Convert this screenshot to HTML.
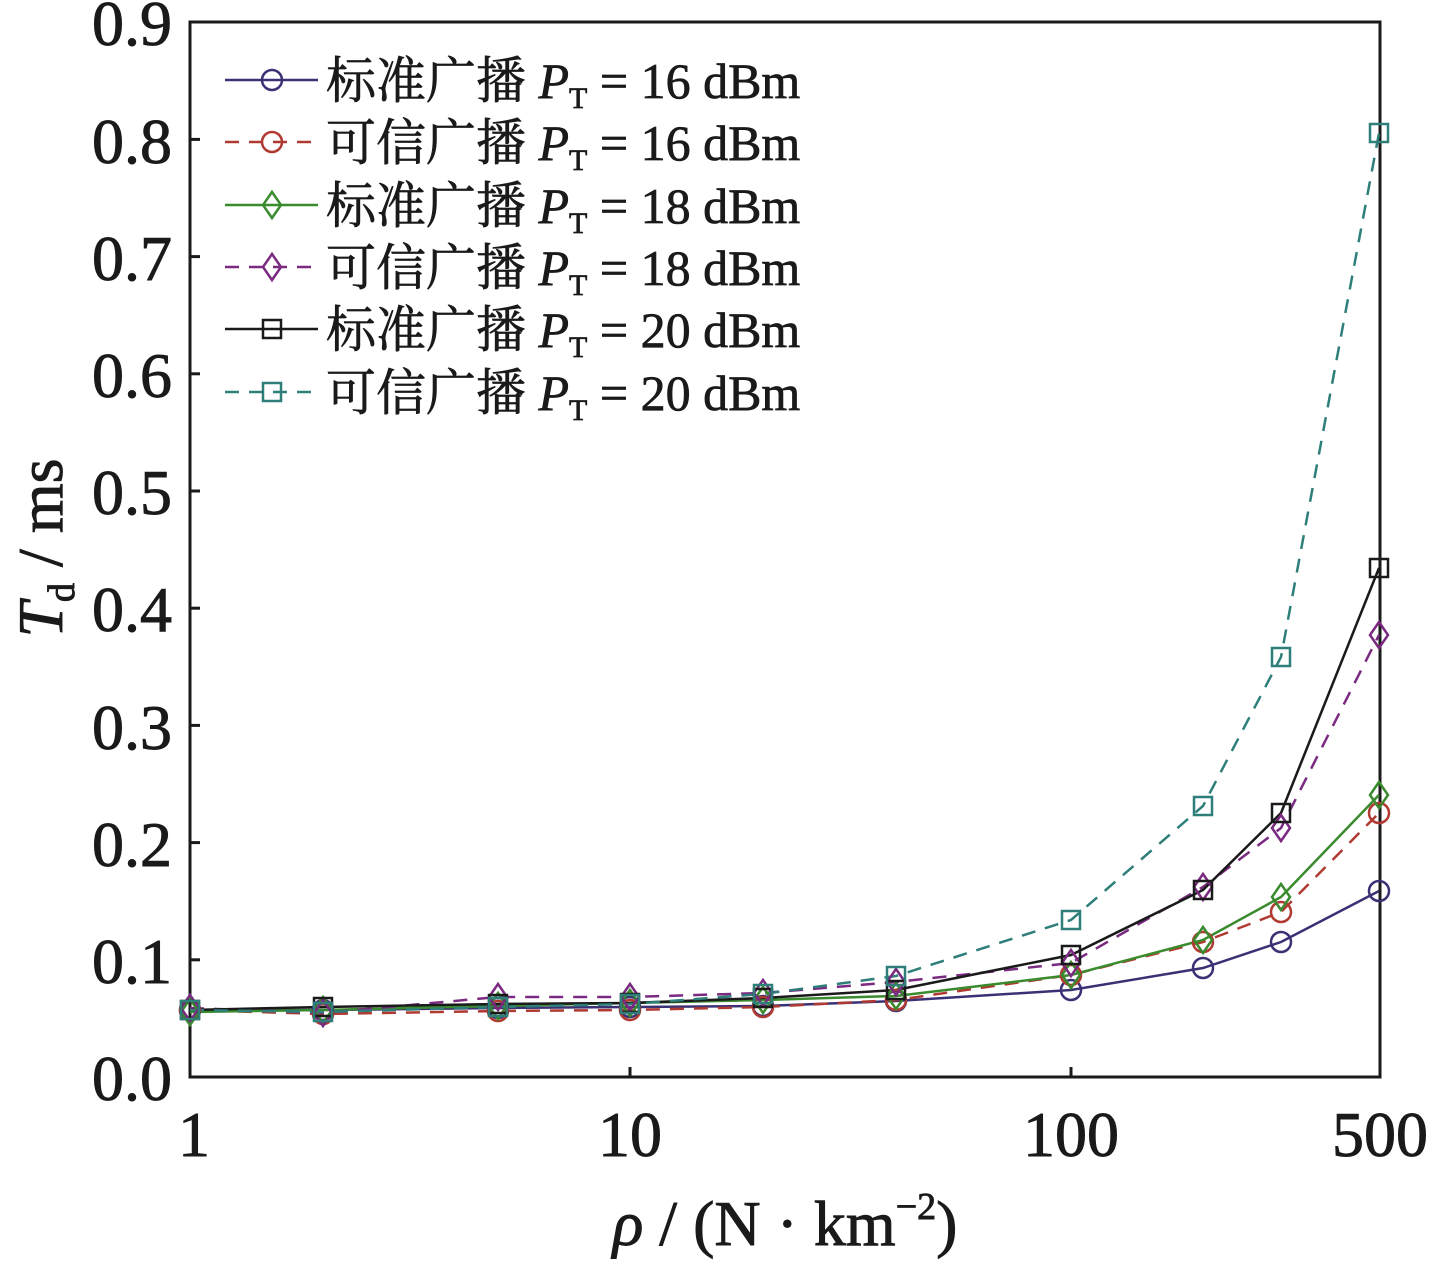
<!DOCTYPE html>
<html><head><meta charset="utf-8"><style>
html,body{margin:0;padding:0;background:#fff;}
svg text{font-family:"Liberation Serif","Noto Serif CJK SC",serif;}
</style></head><body>
<svg width="1433" height="1261" viewBox="0 0 1433 1261" xmlns="http://www.w3.org/2000/svg">
<rect width="1433" height="1261" fill="#fff"/>
<rect x="190" y="22" width="1190" height="1055" fill="none" stroke="#1a1a1a" stroke-width="3"/>
<g stroke="#1a1a1a" stroke-width="3">
<line x1="190" y1="959.8" x2="200" y2="959.8"/><line x1="190" y1="842.6" x2="200" y2="842.6"/>
<line x1="190" y1="725.4" x2="200" y2="725.4"/><line x1="190" y1="608.2" x2="200" y2="608.2"/>
<line x1="190" y1="491" x2="200" y2="491"/><line x1="190" y1="373.8" x2="200" y2="373.8"/>
<line x1="190" y1="256.6" x2="200" y2="256.6"/><line x1="190" y1="139.4" x2="200" y2="139.4"/>
<line x1="630" y1="1077" x2="630" y2="1067"/><line x1="1071" y1="1077" x2="1071" y2="1067"/>
</g>
<g font-size="64" text-anchor="end" fill="#1a1a1a" stroke="#1a1a1a" stroke-width="0.9">
<text x="172" y="1100">0.0</text><text x="172" y="983">0.1</text><text x="172" y="866">0.2</text>
<text x="172" y="749">0.3</text><text x="172" y="631">0.4</text><text x="172" y="514">0.5</text>
<text x="172" y="397">0.6</text><text x="172" y="280">0.7</text><text x="172" y="163">0.8</text>
<text x="172" y="45">0.9</text>
</g>
<g font-size="64" text-anchor="middle" fill="#1a1a1a" stroke="#1a1a1a" stroke-width="0.9">
<text x="194" y="1156">1</text><text x="630" y="1156">10</text><text x="1071" y="1156">100</text><text x="1380" y="1156">500</text>
</g>
<text x="785" y="1245" font-size="64" text-anchor="middle" fill="#1a1a1a" stroke="#1a1a1a" stroke-width="0.9"><tspan font-style="italic">ρ</tspan> / (N · km<tspan font-size="38" dy="-26">−2</tspan><tspan dy="26">)</tspan></text>
<text transform="translate(62,548) rotate(-90)" font-size="64" text-anchor="middle" fill="#1a1a1a" stroke="#1a1a1a" stroke-width="0.9"><tspan font-style="italic">T</tspan><tspan font-size="38" dy="12">d</tspan><tspan dy="-12"> / ms</tspan></text>

<defs>
<g id="c"><circle r="10" fill="none" stroke-width="2.5"/></g>
<g id="d"><path d="M0,-13 L9,0 L0,13 L-9,0 Z" fill="none" stroke-width="2.5"/></g>
<g id="s"><rect x="-9" y="-9" width="18" height="18" fill="none" stroke-width="2.5"/></g>
</defs>

<g fill="none" stroke-width="2.5">
<polyline stroke="#3a3175" points="190,1010 323,1010 498,1008 630,1007 763,1006 896,1001 1071,990 1203,968 1281,942 1379,891"/>
<polyline stroke="#b03a32" stroke-dasharray="14,10" points="190,1010 323,1014 498,1011 630,1010 763,1007 896,1000 1071,975 1203,942 1281,912 1379,813"/>
<polyline stroke="#3a8a2e" points="190,1012 323,1010 498,1006 630,1003 763,1000 896,996 1071,975 1203,940 1281,897 1379,795"/>
<polyline stroke="#7a2a80" stroke-dasharray="14,10" points="190,1008 323,1013 498,997 630,997 763,993 896,982 1071,963 1203,887 1281,828 1379,635"/>
<polyline stroke="#1a1a1a" points="190,1010 323,1007 498,1004 630,1003 763,998 896,990 1071,955 1203,890 1281,813 1379,568"/>
<polyline stroke="#2e7f7a" stroke-dasharray="14,10" points="190,1010 323,1012 498,1007 630,1004 763,994 896,976 1071,920 1203,806 1281,657 1379,133"/>
</g>
<g stroke="#3a3175"><use href="#c" x="190" y="1010"/><use href="#c" x="323" y="1010"/><use href="#c" x="498" y="1008"/><use href="#c" x="630" y="1007"/><use href="#c" x="763" y="1006"/><use href="#c" x="896" y="1001"/><use href="#c" x="1071" y="990"/><use href="#c" x="1203" y="968"/><use href="#c" x="1281" y="942"/><use href="#c" x="1379" y="891"/></g>
<g stroke="#b03a32"><use href="#c" x="190" y="1010"/><use href="#c" x="323" y="1014"/><use href="#c" x="498" y="1011"/><use href="#c" x="630" y="1010"/><use href="#c" x="763" y="1007"/><use href="#c" x="896" y="1000"/><use href="#c" x="1071" y="975"/><use href="#c" x="1203" y="942"/><use href="#c" x="1281" y="912"/><use href="#c" x="1379" y="813"/></g>
<g stroke="#3a8a2e"><use href="#d" x="190" y="1012"/><use href="#d" x="323" y="1010"/><use href="#d" x="498" y="1006"/><use href="#d" x="630" y="1003"/><use href="#d" x="763" y="1000"/><use href="#d" x="896" y="996"/><use href="#d" x="1071" y="975"/><use href="#d" x="1203" y="940"/><use href="#d" x="1281" y="897"/><use href="#d" x="1379" y="795"/></g>
<g stroke="#7a2a80"><use href="#d" x="190" y="1008"/><use href="#d" x="323" y="1013"/><use href="#d" x="498" y="997"/><use href="#d" x="630" y="997"/><use href="#d" x="763" y="993"/><use href="#d" x="896" y="982"/><use href="#d" x="1071" y="963"/><use href="#d" x="1203" y="887"/><use href="#d" x="1281" y="828"/><use href="#d" x="1379" y="635"/></g>
<g stroke="#1a1a1a"><use href="#s" x="190" y="1010"/><use href="#s" x="323" y="1007"/><use href="#s" x="498" y="1004"/><use href="#s" x="630" y="1003"/><use href="#s" x="763" y="998"/><use href="#s" x="896" y="990"/><use href="#s" x="1071" y="955"/><use href="#s" x="1203" y="890"/><use href="#s" x="1281" y="813"/><use href="#s" x="1379" y="568"/></g>
<g stroke="#2e7f7a"><use href="#s" x="190" y="1010"/><use href="#s" x="323" y="1012"/><use href="#s" x="498" y="1007"/><use href="#s" x="630" y="1004"/><use href="#s" x="763" y="994"/><use href="#s" x="896" y="976"/><use href="#s" x="1071" y="920"/><use href="#s" x="1203" y="806"/><use href="#s" x="1281" y="657"/><use href="#s" x="1379" y="133"/></g>

<g stroke-width="2.5" fill="none">
<line x1="225" y1="80" x2="318" y2="80" stroke="#3a3175"/><use href="#c" x="272" y="80" stroke="#3a3175"/>
<line x1="225" y1="142" x2="318" y2="142" stroke="#b03a32" stroke-dasharray="14,10"/><use href="#c" x="272" y="142" stroke="#b03a32"/>
<line x1="225" y1="205" x2="318" y2="205" stroke="#3a8a2e"/><use href="#d" x="272" y="205" stroke="#3a8a2e"/>
<line x1="225" y1="267" x2="318" y2="267" stroke="#7a2a80" stroke-dasharray="14,10"/><use href="#d" x="272" y="267" stroke="#7a2a80"/>
<line x1="225" y1="329" x2="318" y2="329" stroke="#1a1a1a"/><use href="#s" x="272" y="329" stroke="#1a1a1a"/>
<line x1="225" y1="392" x2="318" y2="392" stroke="#2e7f7a" stroke-dasharray="14,10"/><use href="#s" x="272" y="392" stroke="#2e7f7a"/>
</g>
<g font-size="50" fill="#1a1a1a" stroke="#1a1a1a" stroke-width="0.7">
<text x="326" y="98">标准广播 <tspan font-style="italic">P</tspan><tspan font-size="30" dy="10">T</tspan><tspan dy="-10"> = 16 dBm</tspan></text>
<text x="326" y="160">可信广播 <tspan font-style="italic">P</tspan><tspan font-size="30" dy="10">T</tspan><tspan dy="-10"> = 16 dBm</tspan></text>
<text x="326" y="223">标准广播 <tspan font-style="italic">P</tspan><tspan font-size="30" dy="10">T</tspan><tspan dy="-10"> = 18 dBm</tspan></text>
<text x="326" y="285">可信广播 <tspan font-style="italic">P</tspan><tspan font-size="30" dy="10">T</tspan><tspan dy="-10"> = 18 dBm</tspan></text>
<text x="326" y="347">标准广播 <tspan font-style="italic">P</tspan><tspan font-size="30" dy="10">T</tspan><tspan dy="-10"> = 20 dBm</tspan></text>
<text x="326" y="410">可信广播 <tspan font-style="italic">P</tspan><tspan font-size="30" dy="10">T</tspan><tspan dy="-10"> = 20 dBm</tspan></text>
</g>
</svg>
</body></html>
